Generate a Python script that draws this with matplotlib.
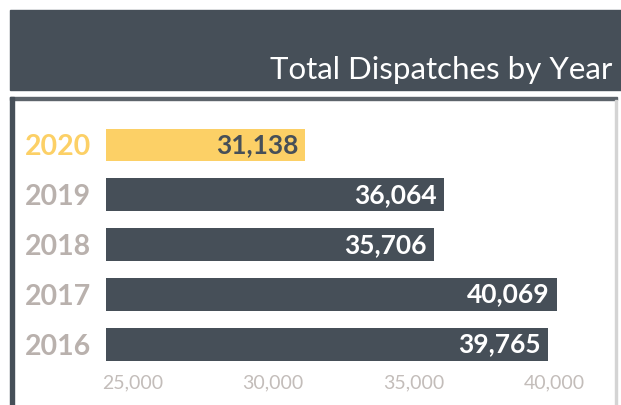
import matplotlib
matplotlib.use("Agg")
import matplotlib.pyplot as plt
from matplotlib.patches import Rectangle

# data
years = ["2020", "2019", "2018", "2017", "2016"]
dispatches = [31138, 36064, 35706, 40069, 39765]
tick_values = [25000, 30000, 35000, 40000]

DARK = "#464f58"
YELLOW = "#fcd066"
YEAR_GRAY = "#b9b1ad"
TICK_GRAY = "#c3bdba"

plt.rcParams["font.family"] = ["Lato", "DejaVu Sans"]

W, H = 621, 405
fig = plt.figure(figsize=(W / 100, H / 100), dpi=100)

def px(x0, y0, w, h):
    # pixel box (from top-left) -> figure fraction
    return (x0 / W, 1 - (y0 + h) / H, w / W, h / H)

def box(x0, y0, w, h, color):
    l, b, ww, hh = px(x0, y0, w, h)
    fig.patches.append(Rectangle((l, b), ww, hh, transform=fig.transFigure,
                                 color=color, zorder=0))

# header band
box(10, 10, 611, 80, DARK)
fig.text(612 / W, 1 - 79 / H, "Total Dispatches by Year", color="white",
         fontsize=22.5, fontweight="normal", ha="right", va="baseline")

# panel frame
box(10, 97, 607, 3, "#5d646b")
box(10, 97, 4, 308, DARK)
box(615, 100, 2, 305, "#d4d4d4")

ax = fig.add_axes(px(106, 120, 507, 250))
ypos = list(range(len(years)))
colors = [YELLOW] + [DARK] * (len(years) - 1)
ax.barh(ypos, dispatches, height=0.66, color=colors, left=0)

ax.set_xlim(24058, 42075)
ax.set_ylim(4.511, -0.501)
ax.set_xticks(tick_values)
ax.set_xticklabels([f"{v:,}" for v in tick_values], fontsize=14,
                   color=TICK_GRAY)
ax.set_yticks(ypos)
ax.set_yticklabels(years, fontsize=20.5, fontweight="bold")
for lab, c in zip(ax.get_yticklabels(), [YELLOW] + [YEAR_GRAY] * 4):
    lab.set_color(c)
ax.tick_params(axis="both", length=0)
ax.tick_params(axis="y", pad=11)
ax.tick_params(axis="x", pad=3)
for s in ax.spines.values():
    s.set_visible(False)
ax.patch.set_alpha(0)

for y, v, c in zip(ypos, dispatches, colors):
    tc = DARK if c == YELLOW else "white"
    ax.annotate(f"{v:,}", (v, y), xytext=(-5, 0), textcoords="offset points",
                ha="right", va="center", color=tc, fontsize=19,
                fontweight="bold")

fig.savefig("out.png", dpi=100)
